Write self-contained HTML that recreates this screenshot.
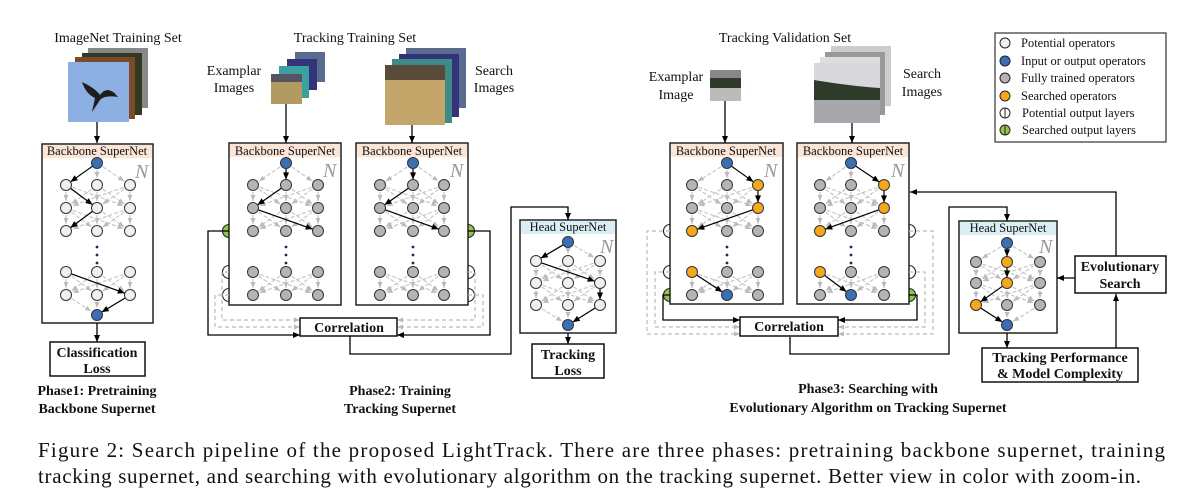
<!DOCTYPE html>
<html><head><meta charset="utf-8"><style>
html,body{margin:0;padding:0;background:#fff;}
svg{display:block;font-family:"Liberation Serif",serif;}
</style></head><body>
<svg id="s" width="1193" height="494" viewBox="0 0 1193 494" xmlns="http://www.w3.org/2000/svg">
<defs>
<marker id="a" markerWidth="8" markerHeight="8" refX="7" refY="4" orient="auto" markerUnits="userSpaceOnUse"><path d="M0,1 L7,4 L0,7 z" fill="#000"/></marker>
<marker id="g" markerWidth="7" markerHeight="7" refX="6" refY="3.5" orient="auto" markerUnits="userSpaceOnUse"><path d="M0,1 L6,3.5 L0,6 z" fill="#bbb"/></marker>
</defs>
<g id="under"></g>
<g id="boxes"></g>
<g id="nets"></g>
<g id="over" fill="none" stroke="#000" stroke-width="1.3">
<path d="M97,122 V143" marker-end="url(#a)"/>
<path d="M286,104 V143" marker-end="url(#a)"/>
<path d="M412,125 V143" marker-end="url(#a)"/>
<path d="M725,101 V143" marker-end="url(#a)"/>
<path d="M852,123 V143" marker-end="url(#a)"/>
<path d="M97,323 V342" marker-end="url(#a)"/>
<path d="M229,231 H208 V335 H300" marker-end="url(#a)"/>
<path d="M468,231 H490 V335 H397" marker-end="url(#a)"/>
<path d="M350,336 V354 H511 V207 H568 V220" marker-end="url(#a)"/>
<path d="M568,333 V344" marker-end="url(#a)"/>
<path d="M670,295 H663 V320 H740" marker-end="url(#a)"/>
<path d="M909,295 H917 V320 H838" marker-end="url(#a)"/>
<path d="M790,337 V354 H949 V207 H1007 V221" marker-end="url(#a)"/>
<path d="M1007,333 V348" marker-end="url(#a)"/>
<path d="M1116,348 V294" marker-end="url(#a)"/>
<path d="M1075,278 H1057" marker-end="url(#a)"/>
<path d="M1116,256 V192 H910" marker-end="url(#a)"/>
</g>
<g id="dash" fill="none" stroke="#bbb" stroke-width="1.2" stroke-dasharray="4,3">
<path d="M229,272 H222 V320 H300" marker-end="url(#g)"/>
<path d="M229,295 H215 V327 H300" marker-end="url(#g)"/>
<path d="M468,272 H475 V320 H397" marker-end="url(#g)"/>
<path d="M468,295 H483 V327 H397" marker-end="url(#g)"/>
<path d="M670,272 H655 V327 H740" marker-end="url(#g)"/>
<path d="M670,231 H647 V334 H740" marker-end="url(#g)"/>
<path d="M909,272 H925 V327 H838" marker-end="url(#g)"/>
<path d="M909,231 H933 V334 H838" marker-end="url(#g)"/>
</g>
<g>
<rect x="88" y="48" width="60" height="60" fill="#888"/>
<rect x="82" y="53" width="60" height="62" fill="#2e3b22"/>
<rect x="75" y="57" width="60" height="62" fill="#7a4a2a"/>
<rect x="68" y="62" width="61" height="60" fill="#8db0e2"/>
<path d="M82,82 Q95,88 100,95 Q108,84 118,97 Q104,95 100,100 L92,112 L95,98 Q86,94 82,82 z" fill="#1e1e1e"/>
<rect x="295" y="52" width="30" height="30" fill="#5b6b90"/>
<rect x="287" y="59" width="30" height="31" fill="#33337a"/>
<rect x="279" y="66" width="30" height="32" fill="#3aa0a0"/>
<rect x="271" y="74" width="31" height="30" fill="#b29a62"/>
<rect x="271" y="74" width="31" height="8" fill="#556"/>
<rect x="406" y="48" width="60" height="60" fill="#5b6b90"/>
<rect x="399" y="54" width="60" height="63" fill="#33337a"/>
<rect x="392" y="59" width="60" height="64" fill="#3e8a86"/>
<rect x="385" y="65" width="60" height="60" fill="#c4a66a"/>
<rect x="385" y="65" width="60" height="15" fill="#5a4a3a"/>
<rect x="710" y="70" width="31" height="31" fill="#888"/>
<rect x="710" y="78" width="31" height="10" fill="#2f3a2a"/>
<rect x="710" y="88" width="31" height="13" fill="#bbb"/>
<rect x="831" y="46" width="60" height="60" fill="#ccc"/>
<rect x="825" y="52" width="60" height="63" fill="#999"/>
<rect x="820" y="57" width="60" height="62" fill="#ddd"/>
<rect x="814" y="63" width="66" height="60" fill="#d8d8dc"/>
<path d="M814,80 Q850,86 880,88 V100 H814 z" fill="#2e3b2a"/>
<rect x="814" y="100" width="66" height="23" fill="#a8a8ac"/>
</g>
<g font-size="14" fill="#111" text-anchor="middle">
<text x="118" y="42">ImageNet Training Set</text>
<text x="355" y="42">Tracking Training Set</text>
<text x="234" y="75">Examplar</text><text x="234" y="92">Images</text>
<text x="494" y="75">Search</text><text x="494" y="92">Images</text>
<text x="785" y="42">Tracking Validation Set</text>
<text x="676" y="81">Examplar</text><text x="676" y="99">Image</text>
<text x="922" y="78">Search</text><text x="922" y="96">Images</text>
</g>
<g font-size="12.5" fill="#111">
<rect x="995" y="33" width="171" height="109" fill="#fff" stroke="#333" stroke-width="1.2"/>
<circle cx="1005" cy="43" r="5" fill="#f0f0f0" stroke="#222"/><text x="1021" y="47">Potential operators</text>
<circle cx="1005" cy="61" r="5" fill="#3a6fb5" stroke="#222"/><text x="1021" y="65">Input or output operators</text>
<circle cx="1005" cy="78" r="5" fill="#b4b4b4" stroke="#222"/><text x="1021" y="82">Fully trained operators</text>
<circle cx="1005" cy="96" r="5" fill="#f5a81c" stroke="#222"/><text x="1021" y="100">Searched operators</text>
<circle cx="1005" cy="113" r="5" fill="#fff" stroke="#222"/><line x1="1005" y1="108" x2="1005" y2="118" stroke="#222"/><text x="1022" y="117">Potential output layers</text>
<circle cx="1005" cy="130" r="5" fill="#8fc74a" stroke="#222"/><line x1="1005" y1="125" x2="1005" y2="135" stroke="#222"/><text x="1022" y="134">Searched output layers</text>
</g>
<g font-weight="bold" font-size="14" text-anchor="middle" fill="#111">
<rect x="50" y="342" width="95" height="34" fill="#fff" stroke="#111" stroke-width="1.5"/>
<text x="97" y="357">Classification</text><text x="97" y="373">Loss</text>
<rect x="300" y="318" width="97" height="18" fill="#fff" stroke="#111" stroke-width="1.5"/>
<text x="349" y="332">Correlation</text>
<rect x="532" y="344" width="72" height="34" fill="#fff" stroke="#111" stroke-width="1.5"/>
<text x="568" y="359">Tracking</text><text x="568" y="375">Loss</text>
<rect x="740" y="317" width="98" height="19" fill="#fff" stroke="#111" stroke-width="1.5"/>
<text x="789" y="331">Correlation</text>
<rect x="1075" y="256" width="91" height="37" fill="#fff" stroke="#111" stroke-width="1.5"/>
<text x="1120" y="271">Evolutionary</text><text x="1120" y="288">Search</text>
<rect x="982" y="348" width="156" height="34" fill="#fff" stroke="#111" stroke-width="1.5"/>
<text x="1060" y="362">Tracking Performance</text><text x="1060" y="378">&amp; Model Complexity</text>
<text x="97" y="395">Phase1: Pretraining</text><text x="97" y="413">Backbone Supernet</text>
<text x="400" y="395">Phase2: Training</text><text x="400" y="413">Tracking Supernet</text>
<text x="868" y="393">Phase3: Searching with</text><text x="868" y="412">Evolutionary Algorithm on Tracking Supernet</text>
</g>
<g font-size="21" fill="#111">
<text x="38" y="457" textLength="1127" lengthAdjust="spacing">Figure 2: Search pipeline of the proposed LightTrack. There are three phases: pretraining backbone supernet, training</text>
<text x="38" y="483" textLength="1103" lengthAdjust="spacing">tracking supernet, and searching with evolutionary algorithm on the tracking supernet. Better view in color with zoom-in.</text>
</g>
<g id="labels" font-size="12.5" fill="#111" text-anchor="middle">
<text x="97" y="155">Backbone SuperNet</text>
<text x="285" y="155">Backbone SuperNet</text>
<text x="412" y="155">Backbone SuperNet</text>
<text x="726" y="155">Backbone SuperNet</text>
<text x="853" y="155">Backbone SuperNet</text>
<text x="568" y="231">Head SuperNet</text>
<text x="1008" y="232">Head SuperNet</text>
</g>
<g font-size="20" font-style="italic" fill="#999">
<text x="135" y="178">N</text><text x="323" y="177">N</text><text x="450" y="177">N</text>
<text x="600" y="253">N</text><text x="764" y="177">N</text><text x="891" y="177">N</text><text x="1039" y="253">N</text>
</g>
</svg>
<script>
var NS="http://www.w3.org/2000/svg";
function el(p,t,a){var e=document.createElementNS(NS,t);for(var k in a)e.setAttribute(k,a[k]);document.getElementById(p).appendChild(e);return e;}
var C={w:"#f0f0f0",b:"#3a6fb5",g:"#b4b4b4",o:"#f5a81c",G:"#8fc74a",W:"#fff"};
function box(x,y,w,h,hc){el("boxes","rect",{x:x,y:y,width:w,height:h,fill:"#fff",stroke:"#222","stroke-width":1.5});el("boxes","rect",{x:x+1,y:y+1,width:w-2,height:13,fill:hc});}
function half(x,y,c){el("under","circle",{cx:x,cy:y,r:6.5,fill:C[c],stroke:"#222","stroke-width":1.1});}
function gedge(x1,y1,x2,y2){var dx=x2-x1,dy=y2-y1,l=Math.sqrt(dx*dx+dy*dy),r=7;
 el("nets","line",{x1:x1+dx/l*r,y1:y1+dy/l*r,x2:x2-dx/l*r,y2:y2-dy/l*r,stroke:"#c4c4c4","stroke-width":1.1,"stroke-dasharray":"4,2","marker-end":"url(#g)"});}
function bedge(x1,y1,x2,y2){var dx=x2-x1,dy=y2-y1,l=Math.sqrt(dx*dx+dy*dy),r=5.5;
 el("nets","line",{x1:x1+dx/l*r,y1:y1+dy/l*r,x2:x2-dx/l*r,y2:y2-dy/l*r,stroke:"#000","stroke-width":1.2,"marker-end":"url(#a)"});}
function node(x,y,c){el("nets","circle",{cx:x,cy:y,r:5.5,fill:C[c],stroke:"#333","stroke-width":1});}
function net(cols,groups,fill,top,bot,blk){
 var mid=cols[1];
 groups.forEach(function(g,gi){
  if(gi==0&&top) cols.forEach(function(x){gedge(top[0],top[1],x,g[0]);});
  for(var i=0;i<g.length-1;i++) cols.forEach(function(a){cols.forEach(function(b){gedge(a,g[i],b,g[i+1]);});});
  if(gi==groups.length-1&&bot) cols.forEach(function(x){gedge(x,g[g.length-1],bot[0],bot[1]);});
 });
 blk.forEach(function(e){bedge.apply(null,e);});
 if(top) node(top[0],top[1],top[2]);
 if(bot) node(bot[0],bot[1],bot[2]);
 groups.forEach(function(g){g.forEach(function(y){cols.forEach(function(x){node(x,y,fill(x,y));});});});
 if(groups.length>1){var y0=groups[0][groups[0].length-1];[y0+16,y0+24,y0+32].forEach(function(y){el("nets","circle",{cx:mid,cy:y,r:1.4,fill:"#1a2a55"});});}
}
box(42,144,111,179,"#fbe5d6");
net([66,97,130],[[185,208,231],[272,295]],function(){return "w";},[97,163,"b"],[97,315,"b"],
 [[97,163,66,185],[66,185,97,208],[97,208,66,231],[66,272,130,295],[130,295,97,315]]);
half(229,231,"G");half(229,272,"W");half(229,295,"W");
half(468,231,"G");half(468,272,"W");half(468,295,"W");
box(229,143,112,162,"#fbe5d6");box(356,143,112,162,"#fbe5d6");
[[253,286,318],[380,413,444]].forEach(function(c){
 net(c,[[185,208,231],[272,295]],function(){return "g";},[c[1],163,"b"],null,
  [[c[1],163,c[1],185],[c[1],185,c[0],208],[c[0],208,c[2],231]]);
});
box(520,220,96,113,"#daeef3");
net([536,568,600],[[261,283,305]],function(){return "w";},[568,242,"b"],[568,325,"b"],
 [[568,242,536,261],[536,261,600,283],[600,283,600,305],[600,305,568,325]]);
half(670,231,"W");half(670,272,"W");half(670,295,"G");
half(909,231,"W");half(909,272,"W");half(909,295,"G");
box(670,143,113,161,"#fbe5d6");box(797,143,112,161,"#fbe5d6");
[[692,727,758],[820,851,884]].forEach(function(c){
 net(c,[[185,208,231],[272,295]],function(x,y){
  if((x==c[2]&&(y==185||y==208))||(x==c[0]&&(y==231||y==272)))return "o";
  if(x==c[1]&&y==295)return "b";return "g";},[c[1],163,"b"],null,
  [[c[1],163,c[2],185],[c[2],185,c[2],208],[c[2],208,c[0],231],[c[0],272,c[1],295]]);
});
box(959,221,98,112,"#daeef3");
net([976,1007,1040],[[262,283,305]],function(x,y){
  if((x==1007&&(y==262||y==283))||(x==976&&y==305))return "o";return "g";},[1007,243,"b"],[1007,325,"b"],
 [[1007,243,1007,262],[1007,262,1007,283],[1007,283,976,305],[976,305,1007,325]]);
</script>
</body></html>
